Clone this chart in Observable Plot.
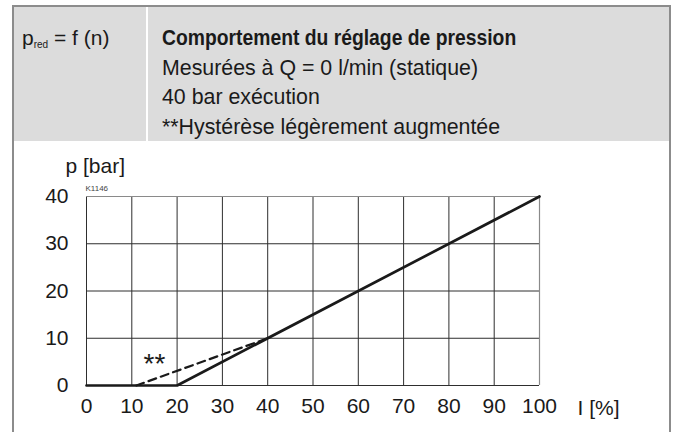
<!DOCTYPE html>
<html>
<head>
<meta charset="utf-8">
<script src="https://cdn.jsdelivr.net/npm/d3@7"></script>
<script src="https://cdn.jsdelivr.net/npm/@observablehq/plot@0.6"></script>
<style>
  html, body { margin: 0; padding: 0; background: #fff; width: 675px; height: 432px; overflow: hidden; }
  #frame { position: absolute; left: 12px; top: 5px; width: 655px; height: 460px;
           border: 2px solid #8c8c8c; background: #fff; }
  #header { height: 134px; background: #dcdcdc; display: flex; }
  #hleft { width: 134px; border-right: 2px solid #fff; box-sizing: border-box; padding: 16px 0 0 8px;
           font-family: "Liberation Sans", Arial, sans-serif; font-size: 21px; line-height: 29.5px; color: #1a1a1a; }
  #hleft sub { font-size: 10px; vertical-align: -3px; }
  #hright { padding: 16px 0 0 14px; font-family: "Liberation Sans", Arial, sans-serif;
            font-size: 22px; line-height: 29.5px; color: #1a1a1a; }
  #hright div { height: 29.5px; white-space: nowrap; transform-origin: 0 50%; transform: scaleX(0.97); }
  #hright .t { font-weight: bold; transform: scaleX(0.878); }
  #chart svg { display: block; }
</style>
</head>
<body>
<div id="frame">
  <div id="header">
    <div id="hleft">p<sub>red</sub> = f (n)</div>
    <div id="hright">
      <div class="t" id="l0"></div>
      <div id="l1"></div>
      <div id="l2"></div>
      <div id="l3"></div>
    </div>
  </div>
  <div id="chart"></div>
</div>
<script>
const headerLines = [
  "Comportement du réglage de pression",
  "Mesurées à Q = 0 l/min (statique)",
  "40 bar exécution",
  "**Hystérèse légèrement augmentée"
];
const xTicks = [0, 10, 20, 30, 40, 50, 60, 70, 80, 90, 100];
const yTicks = [0, 10, 20, 30, 40];
const solidX = [0, 20, 100];
const solidY = [0, 0, 40];
const dashX = [11, 40];
const dashY = [0, 10];
const yLabel = "p [bar]";
const xLabel = "I [%]";
const code = "K1146";
const starLabel = {x: 15, y: 2.6, text: "**"};

headerLines.forEach((t, i) => document.getElementById("l" + i).textContent = t);

const chart = Plot.plot({
  width: 655,
  height: 291,
  marginLeft: 72,
  marginRight: 130,
  marginTop: 55,
  marginBottom: 47,
  x: {domain: [0, 100]},
  y: {domain: [0, 40]},
  style: {fontFamily: "'Liberation Sans', Arial, sans-serif", fontSize: "21px", color: "#1a1a1a", background: "white", overflow: "visible"},
  marks: [
    Plot.ruleX(xTicks.filter(d => d < 100), {stroke: "#2e2e2e", strokeWidth: 1}),
    Plot.ruleY(yTicks.filter(d => d < 40), {stroke: "#2e2e2e", strokeWidth: 1}),
    Plot.ruleX([100], {stroke: "#8a8a8a", strokeWidth: 1.2}),
    Plot.ruleY([40], {stroke: "#8a8a8a", strokeWidth: 1.2}),
    Plot.axisX(xTicks, {tickSize: 0, tickPadding: 13, label: null, fontSize: 21}),
    Plot.axisY(yTicks, {tickSize: 0, tickPadding: 18, label: null, fontSize: 21}),
    Plot.line(dashX.map((x, i) => ({x, y: dashY[i]})), {x: "x", y: "y", stroke: "#1a1a1a", strokeWidth: 2.2, strokeDasharray: "8,5"}),
    Plot.line(solidX.map((x, i) => ({x, y: solidY[i]})), {x: "x", y: "y", stroke: "#1a1a1a", strokeWidth: 2.7}),
    Plot.text([starLabel], {x: "x", y: "y", text: "text", fontSize: 28, lineAnchor: "bottom", fill: "#1a1a1a"}),
    Plot.text([yLabel], {frameAnchor: "top-left", dx: -21, dy: -24, textAnchor: "start", lineAnchor: "bottom", fontSize: 21, fill: "#1a1a1a"}),
    Plot.text([code], {frameAnchor: "top-left", dx: -1, dy: -6, textAnchor: "start", lineAnchor: "bottom", fontSize: 8, fill: "#444"}),
    Plot.text([xLabel], {frameAnchor: "bottom-right", dx: 38, dy: 29, textAnchor: "start", lineAnchor: "bottom", fontSize: 21, fill: "#1a1a1a"})
  ]
});
document.getElementById("chart").appendChild(chart);
</script>
</body>
</html>
